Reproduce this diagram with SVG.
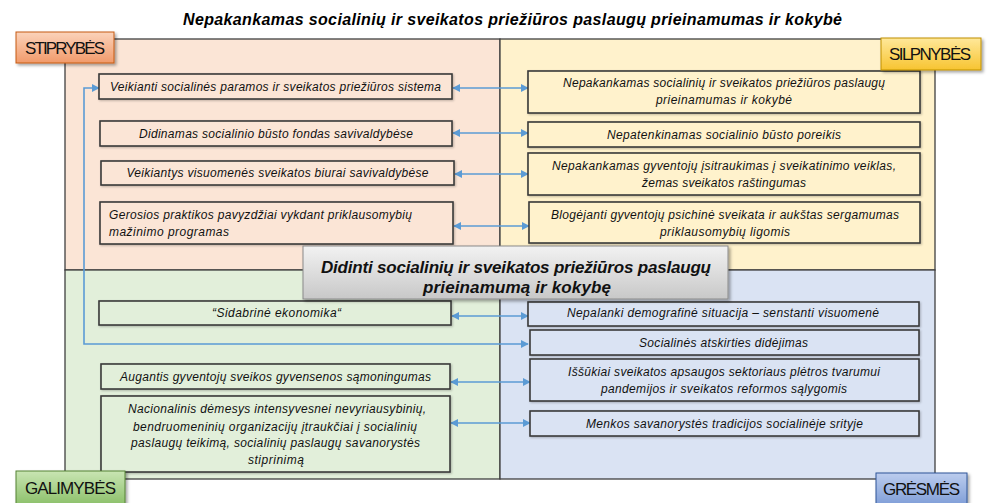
<svg xmlns="http://www.w3.org/2000/svg" width="987" height="503" viewBox="0 0 987 503">
<defs>
  <filter id="sh" x="-10%" y="-20%" width="130%" height="160%">
    <feDropShadow dx="2" dy="2" stdDeviation="1.5" flood-color="#000" flood-opacity="0.35"/>
  </filter>
  <filter id="shs" x="-5%" y="-10%" width="110%" height="130%">
    <feDropShadow dx="1" dy="1" stdDeviation="0.8" flood-color="#000" flood-opacity="0.25"/>
  </filter>
  <linearGradient id="gS" x1="0" y1="0" x2="0" y2="1"><stop offset="0" stop-color="#fbd3bb"/><stop offset="1" stop-color="#f19a6a"/></linearGradient>
  <linearGradient id="gW" x1="0" y1="0" x2="0" y2="1"><stop offset="0" stop-color="#ffe89a"/><stop offset="1" stop-color="#f7c431"/></linearGradient>
  <linearGradient id="gO" x1="0" y1="0" x2="0" y2="1"><stop offset="0" stop-color="#c9e5b3"/><stop offset="1" stop-color="#8cc06a"/></linearGradient>
  <linearGradient id="gT" x1="0" y1="0" x2="0" y2="1"><stop offset="0" stop-color="#bccdee"/><stop offset="1" stop-color="#7c9bd6"/></linearGradient>
  <linearGradient id="gC" x1="0" y1="0" x2="0" y2="1"><stop offset="0" stop-color="#f2f2f2"/><stop offset="1" stop-color="#c8c8c8"/></linearGradient>
  <marker id="ar" viewBox="0 0 10 10" refX="9" refY="5" markerWidth="5" markerHeight="5" orient="auto-start-reverse" markerUnits="strokeWidth">
    <path d="M0,0 L10,5 L0,10 z" fill="#5b9bd5"/>
  </marker>
</defs>
<style>
  .q { stroke: #404040; stroke-width: 1.3; }
  .b { stroke: #3a3a3a; stroke-width: 1.6; filter: url(#shs); }
  .t { font-family: "Liberation Sans", Arial, sans-serif; font-style: italic; font-size: 12px; fill: #111; text-anchor: middle; }
  .tl { text-anchor: start; }
  .title { font-family: "Liberation Sans", Arial, sans-serif; font-style: italic; font-weight: bold; font-size: 16px; fill: #000; text-anchor: middle; }
  .ct { font-family: "Liberation Sans", Arial, sans-serif; font-style: italic; font-weight: bold; font-size: 17px; fill: #111; text-anchor: middle; }
  .lb { font-family: "Liberation Sans", Arial, sans-serif; font-size: 17px; fill: #111; text-anchor: middle; }
  .c { fill: none; stroke: #5b9bd5; stroke-width: 1.6; marker-start: url(#ar); marker-end: url(#ar); }
</style>

<text class="title" x="512.5" y="25" textLength="659">Nepakankamas socialinių ir sveikatos priežiūros paslaugų prieinamumas ir kokybė</text>

<g id="quadrants">
  <rect class="q" x="65" y="39" width="435" height="231" fill="#fbe5d6"/>
  <rect class="q" x="500" y="39" width="435" height="231" fill="#fff2cc"/>
  <rect class="q" x="65" y="270" width="435" height="209" fill="#e2efda"/>
  <rect class="q" x="500" y="270" width="435" height="209" fill="#dae3f3"/>
</g>

<g id="connectors">
  <line class="c" x1="453" y1="88" x2="528" y2="88"/>
  <line class="c" x1="453" y1="133" x2="528" y2="133"/>
  <line class="c" x1="455" y1="174" x2="528" y2="174"/>
  <line class="c" x1="454" y1="226" x2="529" y2="226"/>
  <line class="c" x1="452" y1="316" x2="528" y2="316"/>
  <path class="c" d="M528,344 H84 V88 H99"/>
  <line class="c" x1="451" y1="382" x2="530" y2="382"/>
  <line class="c" x1="451" y1="423" x2="530" y2="423"/>
</g>

<g id="s1"><rect class="b" x="99" y="74" width="353" height="25" fill="#fbe5d6"/>
  <text class="t" x="275.5" y="91" textLength="331">Veikianti socialinės paramos ir sveikatos priežiūros sistema</text></g>
<g id="s2"><rect class="b" x="100" y="121" width="352" height="25" fill="#fbe5d6"/>
  <text class="t" x="276" y="137.5" textLength="274">Didinamas socialinio būsto fondas savivaldybėse</text></g>
<g id="s3"><rect class="b" x="101" y="161" width="353" height="24" fill="#fbe5d6"/>
  <text class="t" x="277.5" y="177" textLength="302">Veikiantys visuomenės sveikatos biurai  savivaldybėse</text></g>
<g id="s4"><rect class="b" x="100" y="202" width="353" height="42" fill="#fbe5d6"/>
  <text class="t tl" x="109" y="219" textLength="303">Gerosios praktikos pavyzdžiai vykdant priklausomybių</text>
  <text class="t tl" x="109" y="236" textLength="120">mažinimo programas</text></g>

<g id="w1"><rect class="b" x="528" y="71" width="392" height="42" fill="#fff2cc"/>
  <text class="t" x="724" y="87" textLength="322">Nepakankamas socialinių ir sveikatos priežiūros paslaugų</text>
  <text class="t" x="724" y="104" textLength="136">prieinamumas ir kokybė</text></g>
<g id="w2"><rect class="b" x="528" y="122" width="392" height="25" fill="#fff2cc"/>
  <text class="t" x="724" y="139" textLength="234">Nepatenkinamas socialinio būsto poreikis</text></g>
<g id="w3"><rect class="b" x="528" y="153" width="392" height="42" fill="#fff2cc"/>
  <text class="t" x="724" y="170" textLength="344">Nepakankamas gyventojų įsitraukimas į sveikatinimo veiklas,</text>
  <text class="t" x="724" y="187" textLength="164">žemas sveikatos raštingumas</text></g>
<g id="w4"><rect class="b" x="529" y="202" width="391" height="41" fill="#fff2cc"/>
  <text class="t" x="725" y="219" textLength="348">Blogėjanti gyventojų psichinė sveikata ir aukštas sergamumas</text>
  <text class="t" x="725" y="236" textLength="130">priklausomybių ligomis</text></g>

<g id="o1"><rect class="b" x="99" y="301" width="352" height="24" fill="#e2efda"/>
  <text class="t" x="276.5" y="317" textLength="129">“Sidabrinė ekonomika“</text></g>
<g id="o2"><rect class="b" x="101" y="364" width="349" height="25" fill="#e2efda"/>
  <text class="t" x="275.5" y="381" textLength="311">Augantis gyventojų sveikos gyvensenos sąmoningumas</text></g>
<g id="o3"><rect class="b" x="101" y="396" width="349" height="76" fill="#e2efda"/>
  <text class="t" x="277" y="413" textLength="298">Nacionalinis dėmesys intensyvesnei nevyriausybinių,</text>
  <text class="t" x="275" y="431" textLength="284">bendruomeninių organizacijų įtraukčiai į socialinių</text>
  <text class="t" x="275.5" y="447" textLength="289">paslaugų teikimą, socialinių paslaugų savanorystės</text>
  <text class="t" x="276" y="464" textLength="56">stiprinimą</text></g>

<g id="t1"><rect class="b" x="528" y="302" width="391" height="24" fill="#dae3f3"/>
  <text class="t" x="723" y="317" textLength="312">Nepalanki demografinė situacija – senstanti visuomenė</text></g>
<g id="t2"><rect class="b" x="530" y="330" width="389" height="25" fill="#dae3f3"/>
  <text class="t" x="723.5" y="347" textLength="169">Socialinės atskirties didėjimas</text></g>
<g id="t3"><rect class="b" x="530" y="359" width="389" height="42" fill="#dae3f3"/>
  <text class="t" x="724" y="376" textLength="312">Iššūkiai sveikatos apsaugos sektoriaus plėtros tvarumui</text>
  <text class="t" x="724" y="393" textLength="246">pandemijos ir sveikatos reformos sąlygomis</text></g>
<g id="t4"><rect class="b" x="530" y="411" width="389" height="25" fill="#dae3f3"/>
  <text class="t" x="724.5" y="428" textLength="277">Menkos savanorystės tradicijos socialinėje srityje</text></g>

<g id="center"><rect x="303" y="246" width="425" height="53" fill="url(#gC)" stroke="#8a8a8a" stroke-width="1" filter="url(#sh)"/>
  <text class="ct" x="516" y="273" textLength="390">Didinti socialinių ir sveikatos priežiūros paslaugų</text>
  <text class="ct" x="517" y="293" textLength="188">prieinamumą ir kokybę</text></g>

<g id="lbl-s"><rect x="16" y="32" width="98" height="31" fill="url(#gS)" stroke="#c55a11" stroke-width="1" filter="url(#sh)"/>
  <text class="lb" x="65" y="54" textLength="80">STIPRYBĖS</text></g>
<g id="lbl-w"><rect x="881" y="38" width="100" height="32" fill="url(#gW)" stroke="#bf9000" stroke-width="1" filter="url(#sh)"/>
  <text class="lb" x="930" y="60" textLength="82">SILPNYBĖS</text></g>
<g id="lbl-o"><rect x="16" y="471" width="109" height="34" fill="url(#gO)" stroke="#548235" stroke-width="1" filter="url(#sh)"/>
  <text class="lb" x="70.5" y="494" textLength="91">GALIMYBĖS</text></g>
<g id="lbl-t"><rect x="876" y="473" width="91" height="34" fill="url(#gT)" stroke="#2f5597" stroke-width="1" filter="url(#sh)"/>
  <text class="lb" x="921.5" y="495" textLength="77">GRĖSMĖS</text></g>
</svg>
